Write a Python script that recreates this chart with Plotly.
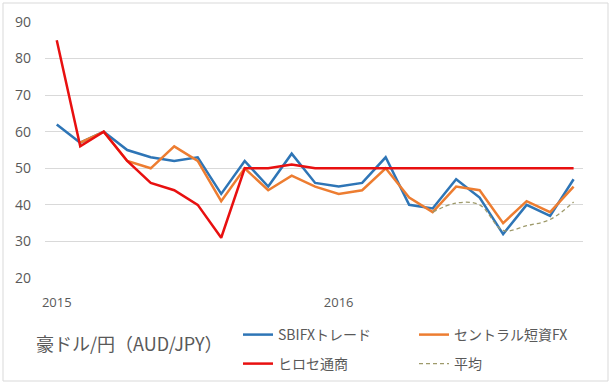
import plotly.graph_objects as go

months = list(range(23))
tick_pos = [0, 12]
tick_labels = ["2015", "2016"]

sbi = [62, 57, 60, 55, 53, 52, 53, 43, 52, 45, 54, 46, 45, 46, 53, 40, 39, 47, 42, 32, 40, 37, 47]
central = [None, 57, 60, 52, 50, 56, 52, 41, 50, 44, 48, 45, 43, 44, 50, 42, 38, 45, 44, 35, 41, 38, 45]
hirose = [85, 56, 60, 52, 46, 44, 40, 31, 50, 50, 51, 50, 50, 50, 50, 50, 50, 50, 50, 50, 50, 50, 50]
avg = [None] * 16 + [38, 40.5, 40, 33, 34.3, 36, 40.8]

names = ["SBIFXトレード", "セントラル短資FX", "ヒロセ通商", "平均"]
title_text = "豪ドル/円（AUD/JPY）"

W, H = 611, 384
L, R, T, B = 45, 28, 22, 106
pw, ph = W - L - R, H - T - B

def px_x(p):
    return (p - L) / pw

def px_y(p):
    return (H - B - p) / ph

jp = "Noto Sans CJK JP"
grey = "#595959"

fig = go.Figure()
fig.add_trace(go.Scatter(x=months, y=sbi, mode="lines", name=names[0],
                         line=dict(color="#2E75B6", width=2.5), legend="legend"))
fig.add_trace(go.Scatter(x=months, y=central, mode="lines", name=names[1],
                         line=dict(color="#ED7D31", width=2.5), legend="legend"))
fig.add_trace(go.Scatter(x=months, y=avg, mode="lines", name=names[3],
                         line=dict(color="#9E9A6B", width=1.3, dash="4px,3px", shape="spline"),
                         legend="legend2"))
fig.add_trace(go.Scatter(x=months, y=hirose, mode="lines", name=names[2],
                         line=dict(color="#E81010", width=2.5), legend="legend2"))

fig.update_layout(
    width=W, height=H,
    margin=dict(l=L, r=R, t=T, b=B, autoexpand=False),
    paper_bgcolor="white", plot_bgcolor="white",
    font=dict(family=jp, color=grey, size=13),
    xaxis=dict(range=[-0.5, 22.4], tickvals=tick_pos, ticktext=tick_labels,
               showgrid=False, zeroline=False, showline=False, ticks="",
               ticklabelstandoff=15, tickfont=dict(size=13, color=grey, family="Open Sans")),
    yaxis=dict(range=[20, 90], dtick=10, showgrid=True, gridcolor="#D9D9D9", gridwidth=1,
               zeroline=False, showline=False, ticks="", ticklabelstandoff=13,
               tickfont=dict(size=14, color=grey, family="Open Sans")),
    legend=dict(orientation="h", x=px_x(238), y=px_y(335), xanchor="left", yanchor="middle",
                entrywidth=131, entrywidthmode="pixels", traceorder="normal",
                font=dict(size=14, color=grey, family=jp), bgcolor="rgba(0,0,0,0)"),
    legend2=dict(orientation="h", x=px_x(238), y=px_y(364), xanchor="left", yanchor="middle",
                 entrywidth=131, entrywidthmode="pixels", traceorder="reversed",
                 font=dict(size=14, color=grey, family=jp), bgcolor="rgba(0,0,0,0)"),
    showlegend=True,
)

fig.add_annotation(text=title_text, xref="paper", yref="paper", x=px_x(34), y=px_y(343),
                   xanchor="left", yanchor="middle", showarrow=False,
                   font=dict(size=18, color=grey, family=jp))

fig.add_shape(type="rect", xref="paper", yref="paper",
              x0=px_x(3), x1=px_x(608), y0=px_y(381), y1=px_y(3),
              line=dict(color="#D9D9D9", width=1), layer="below")

fig.write_html("out.html", config={"displayModeBar": False},
               post_script="document.body.style.margin='0';document.body.style.overflow='hidden';")
